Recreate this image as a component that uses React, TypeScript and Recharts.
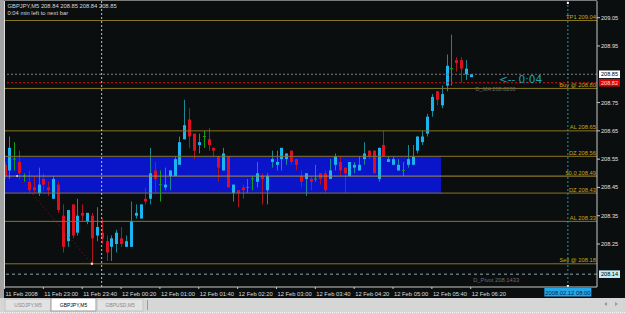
import React from 'react';
import {
  ComposedChart,
  Bar,
  XAxis,
  YAxis,
  ReferenceLine,
  ReferenceArea,
  ReferenceDot,
} from 'recharts';

// GBPJPY M5, bars from 11 Feb 2008 22:20 to 12 Feb 06:20
const opens = [
  208.53, 208.51, 208.55, 208.54, 208.49, 208.47, 208.45, 208.43, 208.48, 208.45,
  208.41, 208.46, 208.35, 208.26, 208.39, 208.29, 208.36, 208.33, 208.35, 208.28,
  208.29, 208.26, 208.24, 208.25, 208.27, 208.24, 208.24, 208.35, 208.34, 208.41,
  208.41, 208.51, 208.46, 208.45, 208.49, 208.49, 208.53, 208.62, 208.69, 208.64,
  208.6, 208.63, 208.62, 208.59, 208.56, 208.51, 208.56, 208.43, 208.44, 208.45,
  208.45, 208.48, 208.47, 208.49, 208.44, 208.54, 208.53, 208.55, 208.55, 208.58,
  208.55, 208.49, 208.48, 208.48, 208.48, 208.5, 208.5, 208.48, 208.53, 208.54,
  208.52, 208.49, 208.52, 208.51, 208.55, 208.58, 208.58, 208.48, 208.6, 208.54,
  208.53, 208.51, 208.51, 208.53, 208.53, 208.58, 208.61, 208.64, 208.72, 208.79,
  208.74, 208.81, 208.87, 208.9, 208.9, 208.85, 208.84,
];
const highs = [
  208.54, 208.63, 208.61, 208.58, 208.5, 208.51, 208.49, 208.52, 208.5, 208.47,
  208.49, 208.47, 208.39, 208.37, 208.39, 208.41, 208.39, 208.36, 208.36, 208.38,
  208.34, 208.28, 208.28, 208.3, 208.31, 208.28, 208.4, 208.39, 208.39, 208.45,
  208.59, 208.54, 208.51, 208.52, 208.51, 208.56, 208.63, 208.76, 208.73, 208.64,
  208.64, 208.65, 208.66, 208.59, 208.56, 208.59, 208.56, 208.46, 208.44, 208.46,
  208.48, 208.49, 208.54, 208.5, 208.5, 208.58, 208.58, 208.59, 208.57, 208.58,
  208.55, 208.51, 208.5, 208.49, 208.53, 208.5, 208.51, 208.55, 208.57, 208.56,
  208.52, 208.54, 208.54, 208.56, 208.61, 208.58, 208.58, 208.59, 208.65, 208.56,
  208.56, 208.55, 208.54, 208.6, 208.6, 208.63, 208.65, 208.71, 208.78, 208.79,
  208.81, 208.92, 208.99, 208.91, 208.91, 208.9, 208.85,
];
const lows = [
  208.48, 208.48, 208.51, 208.48, 208.47, 208.43, 208.43, 208.42, 208.44, 208.42,
  208.41, 208.36, 208.22, 208.24, 208.27, 208.28, 208.33, 208.32, 208.18, 208.26,
  208.25, 208.19, 208.19, 208.22, 208.24, 208.24, 208.24, 208.34, 208.34, 208.39,
  208.39, 208.43, 208.4, 208.44, 208.44, 208.49, 208.53, 208.62, 208.59, 208.55,
  208.57, 208.59, 208.58, 208.56, 208.47, 208.51, 208.45, 208.4, 208.38, 208.41,
  208.43, 208.44, 208.45, 208.39, 208.39, 208.52, 208.51, 208.51, 208.53, 208.53,
  208.51, 208.45, 208.42, 208.44, 208.47, 208.46, 208.43, 208.48, 208.51, 208.49,
  208.43, 208.49, 208.5, 208.51, 208.53, 208.55, 208.5, 208.47, 208.56, 208.54,
  208.53, 208.51, 208.49, 208.52, 208.53, 208.57, 208.6, 208.63, 208.7, 208.74,
  208.73, 208.79, 208.81, 208.86, 208.82, 208.83, 208.84,
];
const closes = [
  208.49, 208.59, 208.55, 208.5, 208.49, 208.44, 208.44, 208.46, 208.46, 208.44,
  208.48, 208.37, 208.24, 208.37, 208.28, 208.35, 208.35, 208.36, 208.27, 208.31,
  208.27, 208.22, 208.27, 208.29, 208.25, 208.26, 208.33, 208.36, 208.39, 208.4,
  208.5, 208.48, 208.46, 208.46, 208.51, 208.55, 208.61, 208.67, 208.63, 208.58,
  208.61, 208.63, 208.6, 208.58, 208.52, 208.57, 208.45, 208.46, 208.43, 208.44,
  208.45, 208.48, 208.5, 208.48, 208.49, 208.55, 208.54, 208.59, 208.57, 208.54,
  208.53, 208.47, 208.5, 208.47, 208.48, 208.48, 208.44, 208.51, 208.56, 208.51,
  208.5, 208.54, 208.53, 208.53, 208.57, 208.56, 208.5, 208.59, 208.56, 208.55,
  208.55, 208.53, 208.51, 208.55, 208.56, 208.63, 208.63, 208.7, 208.77, 208.76,
  208.78, 208.88, 208.87, 208.89, 208.87, 208.87, 208.85,
];

const timeTicks = [0, 8, 16, 24, 32, 40, 48, 56, 64, 72, 80, 88, 96];
const timeLabels = [
  '11 Feb 2008', '11 Feb 23:00', '11 Feb 23:40', '12 Feb 00:20', '12 Feb 01:00',
  '12 Feb 01:40', '12 Feb 02:20', '12 Feb 03:00', '12 Feb 03:40', '12 Feb 04:20',
  '12 Feb 05:00', '12 Feb 05:40', '12 Feb 06:20',
];
const priceTicks = [209.05, 208.95, 208.75, 208.65, 208.55, 208.45, 208.35, 208.25];

// trade levels drawn by the EA
const levelNames = ['TP1', 'Buy @', 'AL', 'DZ', '50.0', 'DZ', 'AL', 'Sell @'];
const levelPrices = [209.04, 208.8, 208.65, 208.56, 208.49, 208.43, 208.33, 208.18];

const bid = 208.85;
const dailyMA = 208.82;
const dailyPivot = 208.1433;
const zoneHigh = 208.56;
const zoneLow = 208.43;
const zoneEndBar = 89.9;
const daySeparatorBar = 20; // 12 Feb 00:00
const futureBar = 116; // 12 Feb 08:00
const zigzag = [
  { x: 2.6, y: 208.49 },
  { x: 18, y: 208.18 },
];

const Y_MIN = 208.098;
const Y_MAX = 209.109;
const X_MAX = 122;

const FONT = '"Liberation Sans", Arial, sans-serif';
const BULL_BODY = '#1ab4f0';
const BULL_WICK = '#178a96';
const BEAR_BODY = '#dc1020';
const BEAR_WICK = '#b0141c';
const DOJI = '#12a012';
const GOLD_LINE = '#8a7622';
const GOLD_TEXT = '#c8a418';

const candles = opens.map((o, i) => ({
  i,
  open: o,
  high: highs[i],
  low: lows[i],
  close: closes[i],
}));

const Candle = (props: any) => {
  const { x, y, width, height, payload } = props;
  if (!payload || x == null) return null;
  const { open, high, low, close } = payload;
  const top = Math.min(y, y + height);
  const bottom = Math.max(y, y + height);
  const k = (bottom - top) / (high - low);
  const py = (p: number) => top + (high - p) * k;
  const cx = Math.round(x + width / 2) + 0.5;
  if (open === close) {
    return (
      <g>
        <line x1={cx} x2={cx} y1={top} y2={bottom} stroke={DOJI} />
        <line x1={cx - 1.5} x2={cx + 1.5} y1={py(open)} y2={py(open)} stroke={DOJI} />
      </g>
    );
  }
  const up = close > open;
  const bTop = py(Math.max(open, close));
  const bBot = py(Math.min(open, close));
  return (
    <g>
      <line x1={cx} x2={cx} y1={top} y2={bottom} stroke={up ? BULL_WICK : BEAR_WICK} />
      <rect
        x={cx - 1.5}
        y={bTop}
        width={3}
        height={Math.max(bBot - bTop, 1)}
        fill={up ? BULL_BODY : BEAR_BODY}
      />
    </g>
  );
};

const TimeTick = (props: any) => {
  const { x, y, payload } = props;
  const label = timeLabels[timeTicks.indexOf(payload.value)];
  return (
    <text x={x + 1} y={y + 4.5} fill="#dcdcdc" fontSize={5.8} fontFamily={FONT}>
      {label}
    </text>
  );
};

const levelLabel = (text: string) => (props: any) => {
  const { viewBox } = props;
  return (
    <text
      x={viewBox.x + viewBox.width - 1}
      y={viewBox.y - 1.5}
      textAnchor="end"
      fill={GOLD_TEXT}
      fontSize={5.8}
      fontFamily={FONT}
    >
      {text}
    </text>
  );
};

const priceBox = (text: string, bg: string, fg: string) => (props: any) => {
  const { viewBox } = props;
  const bx = viewBox.x + viewBox.width + 2;
  return (
    <g>
      <rect x={bx} y={viewBox.y - 3.8} width={21} height={7.6} fill={bg} />
      <text
        x={bx + 10.5}
        y={viewBox.y + 2}
        textAnchor="middle"
        fill={fg}
        fontSize={5.6}
        fontFamily={FONT}
      >
        {text}
      </text>
    </g>
  );
};

const timeBox = (props: any) => {
  const { viewBox } = props;
  const vx = viewBox.x;
  const bottom = viewBox.y + viewBox.height;
  return (
    <g>
      <rect x={vx - 1} y={viewBox.y + 1} width={2} height={2} fill="#ffffff" />
      <rect x={vx - 1} y={bottom - 2} width={2} height={2} fill="#ffffff" />
      <rect x={vx - 23.5} y={bottom + 1} width={47} height={8.5} fill="#22a8e8" />
      <text
        x={vx}
        y={bottom + 7.5}
        textAnchor="middle"
        fill="#0a1e4a"
        fontSize={5.8}
        fontFamily={FONT}
      >
        2008.02.12 08:00
      </text>
    </g>
  );
};

const textAt = (text: string, dy: number, color: string, size: number, family = FONT) =>
  (p: any) => (
    <text x={p.cx} y={p.cy + dy} fill={color} fontSize={size} fontFamily={family}>
      {text}
    </text>
  );

const Tabs = () => (
  <svg
    width={625}
    height={16}
    style={{ position: 'absolute', left: 0, top: 298 }}
  >
    <rect x={0} y={0} width={625} height={16} fill="#d6d6d6" />
    <rect x={5} y={1} width={46} height={12} fill="#e2e2e2" stroke="#c4c4c4" />
    <rect x={51} y={0} width={45} height={13} fill="#ffffff" stroke="#9a9a9a" />
    <rect x={97} y={1} width={46} height={12} fill="#e2e2e2" stroke="#c4c4c4" />
    <line x1={147.5} x2={147.5} y1={2} y2={12} stroke="#9a9a9a" />
    <text x={28} y={9} textAnchor="middle" fill="#8a8a8a" fontSize={5} fontFamily={FONT}>
      USDJPY,M5
    </text>
    <text x={73.5} y={9} textAnchor="middle" fill="#000000" fontSize={5} fontFamily={FONT}>
      GBPJPY,M5
    </text>
    <text x={120} y={9} textAnchor="middle" fill="#8a8a8a" fontSize={5} fontFamily={FONT}>
      GBPUSD,M5
    </text>
    <polygon points="604,6 607,4 607,8" fill="#9a9a9a" />
    <polygon points="618,6 615,4 615,8" fill="#9a9a9a" />
    <line x1={0} x2={625} y1={14.5} y2={14.5} stroke="#f4f4f4" strokeDasharray="1 1" />
  </svg>
);

const App: React.FC = () => {
  return (
    <div
      style={{
        position: 'absolute',
        left: 0,
        top: 0,
        width: 625,
        height: 314,
        overflow: 'hidden',
        background: '#0b0e0f',
        fontFamily: FONT,
      }}
    >
      <div style={{ position: 'absolute', left: 0, top: 0 }}>
        <ComposedChart
          width={625}
          height={298}
          data={candles}
          margin={{ top: 1, right: 0, bottom: 0, left: 4.5 }}
        >
          <XAxis
            type="number"
            dataKey="i"
            domain={[0, X_MAX]}
            allowDataOverflow
            ticks={timeTicks}
            interval={0}
            height={11}
            tickSize={2}
            tick={<TimeTick />}
            axisLine={{ stroke: '#c8c8c8' }}
            tickLine={{ stroke: '#c8c8c8' }}
          />
          <YAxis
            orientation="right"
            type="number"
            domain={[Y_MIN, Y_MAX]}
            allowDataOverflow
            ticks={priceTicks}
            interval={0}
            width={28}
            tickSize={3}
            tickMargin={1}
            tickFormatter={(v: number) => v.toFixed(2)}
            tick={{ fill: '#e0e0e0', fontSize: 5.6, fontFamily: FONT }}
            axisLine={{ stroke: '#c8c8c8' }}
            tickLine={{ stroke: '#c8c8c8' }}
          />
          <ReferenceArea
            x2={zoneEndBar}
            y1={zoneLow}
            y2={zoneHigh}
            fill="#0a14c8"
            fillOpacity={1}
            stroke="none"
          />
          {levelPrices.map((p, idx) => (
            <ReferenceLine
              key={`lvl-${idx}`}
              y={p}
              stroke={levelNames[idx] === '50.0' ? '#a8903a' : GOLD_LINE}
              strokeWidth={1}
              label={levelLabel(`${levelNames[idx]}  ${p.toFixed(2)}`)}
            />
          ))}
          <ReferenceLine
            y={bid}
            stroke="#7c7c7c"
            strokeDasharray="2 2"
            label={priceBox(bid.toFixed(2), '#ffffff', '#000000')}
          />
          <ReferenceLine
            y={dailyMA}
            stroke="#e01010"
            strokeDasharray="2 2"
            label={priceBox(dailyMA.toFixed(2), '#e00000', '#f4e0e0')}
          />
          <ReferenceLine
            y={dailyPivot}
            stroke="#8ea2aa"
            strokeDasharray="3 3"
            label={priceBox(dailyPivot.toFixed(2), '#c4ecf6', '#000000')}
          />
          <ReferenceLine x={daySeparatorBar} stroke="#c0c0c0" strokeDasharray="2 2" />
          <ReferenceLine
            x={futureBar}
            stroke="#1a9aa2"
            strokeDasharray="2 2"
            label={timeBox}
          />
          <ReferenceLine segment={zigzag} stroke="#a01010" strokeDasharray="1 3" />
          <ReferenceDot x={zigzag[0].x} y={zigzag[0].y} r={1} fill="#f0e4dc" stroke="none" />
          <ReferenceDot x={zigzag[1].x} y={zigzag[1].y} r={1.2} fill="#f6e6c8" stroke="none" />
          <Bar
            dataKey={(d: any) => [d.low, d.high]}
            barSize={3}
            shape={<Candle />}
            isAnimationActive={false}
          />
          <ReferenceDot
            x={101.8}
            y={bid}
            r={0}
            shape={textAt('<-- 0:04', 8.3, '#1aa4b4', 10.5, '"DejaVu Sans", sans-serif')}
          />
          <ReferenceDot
            x={97}
            y={dailyMA}
            r={0}
            shape={textAt(`D_MA ${dailyMA.toFixed(4)}`, 8.2, '#6c6c6c', 5.6)}
          />
          <ReferenceDot
            x={96.5}
            y={dailyPivot}
            r={0}
            shape={textAt(`D_Pivot ${dailyPivot.toFixed(4)}`, 7.5, '#6c6c6c', 5.8)}
          />
        </ComposedChart>
      </div>
      {/* window frame and header */}
      <div style={{ position: 'absolute', left: 0, top: 0, width: 4, height: 298, background: '#a2a2a2' }} />
      <div style={{ position: 'absolute', left: 4, top: 0, width: 1, height: 287, background: '#dedede' }} />
      <div style={{ position: 'absolute', left: 4, top: 0, width: 593, height: 1, background: '#7a7a7a' }} />
      <svg width={200} height={20} style={{ position: 'absolute', left: 0, top: 0 }}>
        <text x={7.5} y={8} fill="#d8d8d8" fontSize={5.8} fontFamily={FONT}>
          GBPJPY,M5  208.84 208.85 208.84 208.85
        </text>
        <text x={7.5} y={15} fill="#d8d8d8" fontSize={5.8} fontFamily={FONT}>
          0:04 min left to next bar
        </text>
      </svg>
      <Tabs />
    </div>
  );
};

export default App;
